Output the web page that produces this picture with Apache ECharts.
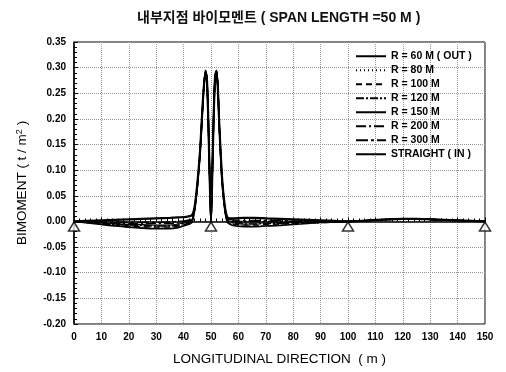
<!DOCTYPE html>
<html>
<head>
<meta charset="utf-8">
<script src="https://cdn.jsdelivr.net/npm/echarts@6/dist/echarts.min.js"></script>
<style>
html, body { margin: 0; padding: 0; background: #fff; }
#chart { width: 506px; height: 372px; }
</style>
</head>
<body>
<div id="chart"></div>
<script>
// positions along the bridge (m)
var xs = [0,5,10,15,20,25,30,35,38,41,
  43,44,45,46,47,47.5,48,48.5,49,49.5,
  50,50.5,51,51.5,52,52.5,53,54,55,56,
  58,62,66,70,75,80,85,90,95,100,
  105,110,115,120,125,130,135,140,145,150];

var r60 = [0,-0.003,-0.006,-0.009,-0.011,-0.013,-0.014,-0.014,-0.012,-0.007,
  -0.002,0.02,0.066,0.132,0.228,0.27,0.295,0.282,0.2,0.088,
  0,0.098,0.208,0.286,0.295,0.262,0.188,0.08,0.024,-0.002,
  -0.008,-0.010,-0.010,-0.009,-0.008,-0.006,-0.004,-0.002,-0.001,0,
  0.001,0.003,0.004,0.005,0.005,0.004,0.003,0.002,0.001,0];
var r80 = [0,-0.002,-0.005,-0.008,-0.010,-0.012,-0.013,-0.013,-0.011,-0.006,
  -0.001,0.021,0.067,0.133,0.229,0.27,0.294,0.281,0.2,0.089,
  0,0.099,0.209,0.286,0.294,0.262,0.189,0.081,0.025,-0.001,
  -0.007,-0.009,-0.009,-0.008,-0.007,-0.005,-0.004,-0.002,-0.001,0,
  0.001,0.003,0.004,0.005,0.005,0.004,0.003,0.002,0.001,0];
var r100 = [0,-0.002,-0.004,-0.007,-0.009,-0.010,-0.011,-0.011,-0.009,-0.005,
  0,0.022,0.068,0.134,0.229,0.27,0.294,0.281,0.2,0.089,
  0,0.099,0.209,0.285,0.294,0.262,0.189,0.082,0.026,0,
  -0.005,-0.007,-0.007,-0.006,-0.005,-0.004,-0.003,-0.002,-0.001,0,
  0.001,0.003,0.004,0.005,0.005,0.004,0.003,0.002,0.001,0];
var r120 = [0,-0.001,-0.003,-0.006,-0.007,-0.008,-0.009,-0.009,-0.007,-0.003,
  0.002,0.023,0.069,0.134,0.23,0.27,0.293,0.28,0.2,0.09,
  0,0.1,0.21,0.285,0.293,0.262,0.19,0.083,0.027,0.002,
  -0.003,-0.005,-0.005,-0.004,-0.004,-0.003,-0.002,-0.001,-0.001,0,
  0.001,0.003,0.004,0.005,0.005,0.004,0.003,0.002,0.001,0];
var r150 = [0,-0.001,-0.003,-0.004,-0.006,-0.006,-0.007,-0.007,-0.005,-0.002,
  0.003,0.024,0.07,0.135,0.23,0.27,0.293,0.28,0.2,0.09,
  0,0.1,0.21,0.285,0.293,0.262,0.19,0.084,0.028,0.003,
  -0.001,-0.003,-0.003,-0.003,-0.002,-0.002,-0.001,-0.001,0,0,
  0.001,0.003,0.004,0.005,0.005,0.004,0.003,0.002,0.001,0];
var r200 = [0,-0.001,-0.002,-0.003,-0.004,-0.004,-0.004,-0.004,-0.003,0,
  0.004,0.025,0.07,0.135,0.23,0.27,0.292,0.279,0.2,0.09,
  0,0.1,0.21,0.284,0.292,0.262,0.19,0.085,0.029,0.004,
  0.001,0,0,0,0,0,0,0,0,0,
  0.001,0.003,0.004,0.005,0.005,0.004,0.003,0.002,0.001,0];
var r300 = [0,0,-0.001,-0.001,-0.002,-0.002,-0.002,-0.001,0,0.002,
  0.006,0.026,0.071,0.136,0.231,0.27,0.292,0.279,0.2,0.09,
  0,0.1,0.21,0.284,0.292,0.261,0.191,0.086,0.03,0.005,
  0.003,0.002,0.002,0.002,0.002,0.001,0.001,0,0,0,
  0.001,0.003,0.004,0.005,0.005,0.004,0.003,0.002,0.001,0];
var straight = [0,0.001,0.002,0.003,0.004,0.005,0.006,0.007,0.008,0.009,
  0.012,0.028,0.073,0.137,0.232,0.27,0.29,0.278,0.2,0.09,
  0,0.1,0.21,0.283,0.29,0.261,0.192,0.088,0.032,0.008,
  0.006,0.007,0.007,0.006,0.005,0.004,0.003,0.002,0.001,0,
  0.001,0.003,0.004,0.005,0.005,0.004,0.003,0.002,0.001,0];

var supportX = [0, 50, 100, 150];

var names = ['R = 60 M ( OUT )','R = 80 M','R = 100 M','R = 120 M','R = 150 M','R = 200 M','R = 300 M','STRAIGHT ( IN )'];
var values = [r60, r80, r100, r120, r150, r200, r300, straight];
var dashes = ['solid', [1,3], [6,4], [8,2,2,2], 'solid', [10,3,2,3], [12,3,3,3], 'solid'];
var widths = [1.6, 1.5, 1.5, 1.5, 1.2, 1.5, 1.5, 2.2];

var font = '"Liberation Sans", Arial, "Noto Sans CJK KR", sans-serif';

function pairs(ys) {
    return xs.map(function (x, i) { return [x, ys[i]]; });
}

var series = names.map(function (n, k) {
    return {
        name: n,
        type: 'line',
        data: pairs(values[k]),
        smooth: 0.2,
        showSymbol: false,
        symbol: 'none',
        lineStyle: { color: '#000', width: widths[k], type: dashes[k] },
        itemStyle: { color: '#000' },
        z: 3
    };
});

series.push({
    type: 'scatter',
    data: supportX.map(function (x) { return [x, 0]; }),
    symbol: 'triangle',
    symbolSize: [11, 9],
    symbolOffset: [0, 5],
    itemStyle: { color: '#fff', borderColor: '#000', borderWidth: 1.5 },
    z: 5
});

var myChart = echarts.init(document.getElementById('chart'));
var option = {
    animation: false,
    backgroundColor: '#fff',
    textStyle: { fontFamily: font },
    title: {
        text: '내부지점 바이모멘트 ( SPAN LENGTH =50 M )',
        left: 132,
        top: 6,
        textStyle: { fontSize: 14, fontWeight: 'bold', color: '#111', fontFamily: font }
    },
    legend: {
        data: names,
        orient: 'vertical',
        left: 350,
        top: 46,
        itemWidth: 30,
        itemHeight: 10,
        itemGap: 3.5,
        itemStyle: { opacity: 0, borderWidth: 0 },
        textStyle: { fontSize: 10.5, fontWeight: 'bold', color: '#000', fontFamily: font }
    },
    grid: {
        left: 74, right: 21, top: 42, bottom: 48,
        show: true, borderColor: '#000', borderWidth: 1
    },
    xAxis: {
        type: 'value',
        min: 0, max: 150, interval: 10,
        name: 'LONGITUDINAL DIRECTION  ( m )',
        nameLocation: 'middle',
        nameGap: 29,
        nameTextStyle: { fontSize: 13.5, color: '#000', fontFamily: font },
        axisLine: { lineStyle: { color: '#000', width: 1.5 } },
        axisTick: { inside: true, length: 4, lineStyle: { color: '#000' } },
        minorTick: { show: true, splitNumber: 5, length: 3, lineStyle: { color: '#000' } },
        axisLabel: { fontSize: 10, fontWeight: 'bold', color: '#000', margin: 8 },
        splitLine: { show: true, lineStyle: { color: '#999', type: 'dotted' } }
    },
    yAxis: {
        type: 'value',
        min: -0.2, max: 0.35, interval: 0.05,
        name: '{a|BIMOMENT ( t / m}{s|2}{a| )}',
        nameLocation: 'middle',
        nameGap: 44,
        nameTextStyle: {
            rich: {
                a: { fontSize: 13.5, color: '#000', fontFamily: font },
                s: { fontSize: 9, color: '#000', fontFamily: font, verticalAlign: 'top', padding: [0, 0, 6, 0] }
            }
        },
        axisLine: { lineStyle: { color: '#000', width: 1.5 } },
        axisTick: { inside: true, length: 4, lineStyle: { color: '#000' } },
        minorTick: { show: true, splitNumber: 5, length: 3, lineStyle: { color: '#000' } },
        axisLabel: {
            fontSize: 10, fontWeight: 'bold', color: '#000', margin: 8,
            formatter: function (v) { return v.toFixed(2); }
        },
        splitLine: { show: true, lineStyle: { color: '#999', type: 'dotted' } }
    },
    series: series
};

myChart.setOption(option);
</script>
</body>
</html>
